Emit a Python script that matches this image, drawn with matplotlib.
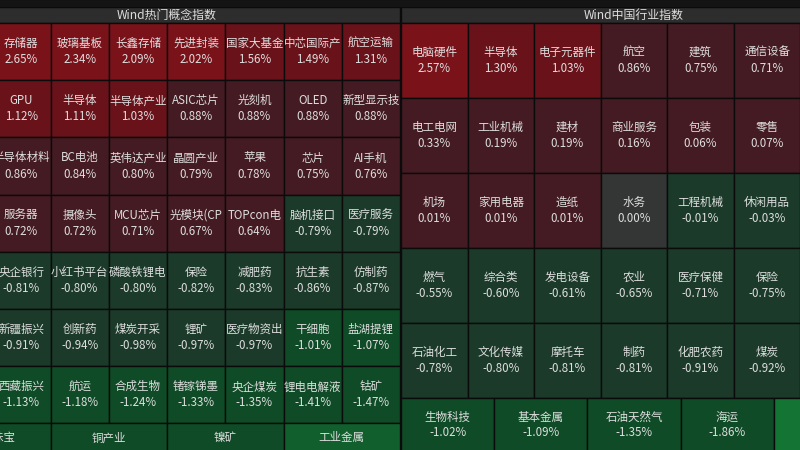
import matplotlib
matplotlib.use("Agg")
import matplotlib.pyplot as plt
from matplotlib.patches import Rectangle

plt.rcParams["font.family"] = ["Noto Sans CJK SC", "DejaVu Sans"]

# ---- data: Wind热门概念指数 (visible columns, row by row) ----
concept_rows = [
    ["存储器", "玻璃基板", "长鑫存储", "先进封装", "国家大基金", "中芯国际产", "航空运输"],
    ["GPU", "半导体", "半导体产业", "ASIC芯片", "光刻机", "OLED", "新型显示技"],
    ["半导体材料", "BC电池", "英伟达产业", "晶圆产业", "苹果", "芯片", "AI手机"],
    ["服务器", "摄像头", "MCU芯片", "光模块(CP", "TOPcon电", "脑机接口", "医疗服务"],
    ["央企银行", "小红书平台", "磷酸铁锂电", "保险", "减肥药", "抗生素", "仿制药"],
    ["新疆振兴", "创新药", "煤炭开采", "锂矿", "医疗物资出", "干细胞", "盐湖提锂"],
    ["西藏振兴", "航运", "合成生物", "锗镓锑墨", "央企煤炭", "锂电电解液", "钴矿"],
]
concept_vals = [
    [2.65, 2.34, 2.09, 2.02, 1.56, 1.49, 1.31],
    [1.12, 1.11, 1.03, 0.88, 0.88, 0.88, 0.88],
    [0.86, 0.84, 0.80, 0.79, 0.78, 0.75, 0.76],
    [0.72, 0.72, 0.71, 0.67, 0.64, -0.79, -0.79],
    [-0.81, -0.80, -0.80, -0.82, -0.83, -0.86, -0.87],
    [-0.91, -0.94, -0.98, -0.97, -0.97, -1.01, -1.07],
    [-1.13, -1.18, -1.24, -1.33, -1.35, -1.41, -1.47],
]
# bottom row, values cut off in the picture (estimated for colour only)
concept_last = ["黄金珠宝", "铜产业", "镍矿", "工业金属"]
concept_last_vals = [-1.5, -1.6, -1.7, -2.1]

# ---- data: Wind中国行业指数 ----
industry_rows = [
    ["电脑硬件", "半导体", "电子元器件", "航空", "建筑", "通信设备"],
    ["电工电网", "工业机械", "建材", "商业服务", "包装", "零售"],
    ["机场", "家用电器", "造纸", "水务", "工程机械", "休闲用品"],
    ["燃气", "综合类", "发电设备", "农业", "医疗保健", "保险"],
    ["石油化工", "文化传媒", "摩托车", "制药", "化肥农药", "煤炭"],
]
industry_vals = [
    [2.57, 1.30, 1.03, 0.86, 0.75, 0.71],
    [0.33, 0.19, 0.19, 0.16, 0.06, 0.07],
    [0.01, 0.01, 0.01, 0.00, -0.01, -0.03],
    [-0.55, -0.60, -0.61, -0.65, -0.71, -0.75],
    [-0.78, -0.80, -0.81, -0.81, -0.91, -0.92],
]
industry_last = ["生物科技", "基本金属", "石油天然气", "海运", ""]
industry_last_vals = [-1.02, -1.09, -1.35, -1.86, -2.6]


def cell_color(v):
    if v >= 2:
        return "#7a121a"
    if v >= 1:
        return "#6a121a"
    if v > 0:
        return "#441b22"
    if v == 0:
        return "#343535"
    if v > -1:
        return "#1b3a2a"
    if v > -2:
        return "#0e4b26"
    return "#137434" if v < -2.3 else "#125f2e"


TXT = "#dedede"
EDGE = "#0b0b0b"
FS = 8.3

fig = plt.figure(figsize=(8, 4.5), dpi=100)
fig.patch.set_facecolor("#141414")
ax = fig.add_axes([0, 0, 1, 1])
ax.set_xlim(0, 800)
ax.set_ylim(450, 0)
ax.axis("off")


def draw_cell(x, y, w, h, label, val, show_pct=True, dy=8):
    ax.add_patch(Rectangle((x, y), w, h, facecolor=cell_color(val),
                           edgecolor=EDGE, linewidth=1.0))
    cx, cy = x + w / 2, y + h / 2
    ax.text(cx, cy - dy, label, color=TXT, fontsize=FS, ha="center", va="center")
    if show_pct:
        ax.text(cx, cy + dy, f"{val:.2f}%", color=TXT, fontsize=FS,
                ha="center", va="center")


def draw_panel(x0, width, ncols, off, rows, vals, last, last_vals,
               rh, last_h, last_pct, title):
    head_top, head_bot = 7, 23
    ax.add_patch(Rectangle((x0, head_top), width, head_bot - head_top,
                           facecolor="#2d2d2d", edgecolor=EDGE, linewidth=1.0))
    ax.text(x0 + width / 2, (head_top + head_bot) / 2 + 0.5, title, color=TXT,
            fontsize=FS + 0.3, ha="center", va="center")
    cw = width / ncols
    for r, (labels, vs) in enumerate(zip(rows, vals)):
        y = head_bot + r * rh
        for c, (lab, v) in enumerate(zip(labels, vs)):
            draw_cell(x0 + (c + off) * cw, y, cw, rh, lab, v)
    y = head_bot + len(rows) * rh
    bw = width / len(last)
    for c, (lab, v) in enumerate(zip(last, last_vals)):
        draw_cell(x0 + c * bw, y, bw, last_h, lab, v,
                  show_pct=last_pct and lab != "")


# the concept panel has one hidden grid column on the left,
# the industry panel one hidden grid column on the right
draw_panel(-66, 466, 8, 1, concept_rows, concept_vals,
           concept_last, concept_last_vals, 57.2, 45, False, "Wind热门概念指数")
draw_panel(401, 466, 7, 0, industry_rows, industry_vals,
           industry_last, industry_last_vals, 75, 54, True, "Wind中国行业指数")

# top strip
ax.add_patch(Rectangle((0, 0), 800, 7, facecolor="#141414", edgecolor="none"))

fig.savefig("out.png", dpi=100, facecolor=fig.get_facecolor())
